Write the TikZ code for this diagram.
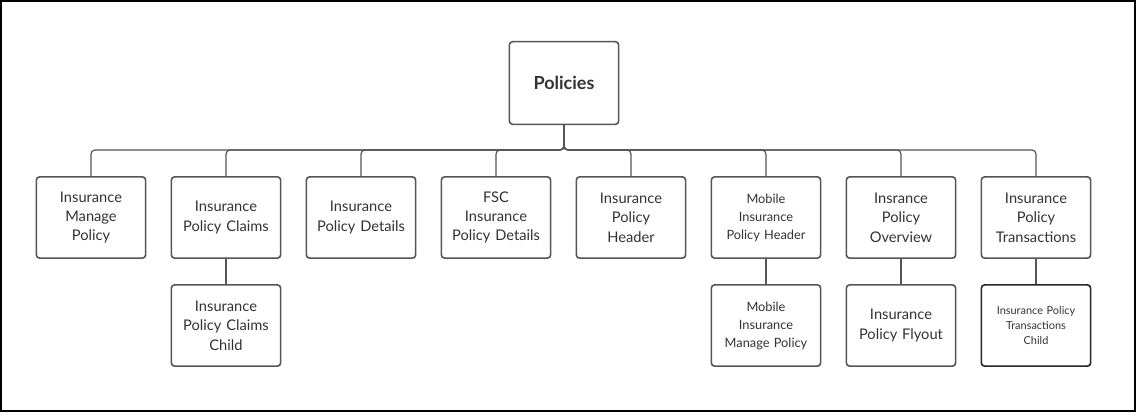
\documentclass[tikz,border=0pt]{standalone}
\usepackage{fontspec}
\setmainfont{Lato}
\usetikzlibrary{positioning}
\definecolor{linegray}{HTML}{555555}
\definecolor{textgray}{HTML}{333333}
\tikzset{
  pagebox/.style={draw=linegray, line width=1.2pt, rounded corners=2.5pt, fill=white,
    minimum width=81pt, minimum height=61pt, inner sep=2pt, align=center,
    text width=78pt, font=\fontsize{11}{14.5}\selectfont, text=textgray},
  link/.style={draw=linegray, line width=0.9pt, rounded corners=3pt}
}
\begin{document}
\begin{tikzpicture}[x=0.75pt,y=-0.75pt]
\useasboundingbox (0,0) rectangle (1136,412);
\draw[black, line width=1pt] (1,1) rectangle (1135,411);
% root
\node[pagebox, minimum height=62pt, font=\fontsize{13.5}{16}\selectfont\bfseries] (root) at (564,83) {Policies};
\coordinate (bus) at (564,150);
% first row
\node[pagebox] (manage) at (91,217.5) {Insurance\\Manage\\Policy};
\node[pagebox] (claims) at (226,217.5) {Insurance\\Policy Claims};
\node[pagebox] (details) at (361,217.5) {Insurance\\Policy Details};
\node[pagebox] (fsc) at (496,217.5) {FSC\\Insurance\\Policy Details};
\node[pagebox] (header) at (631,217.5) {Insurance\\Policy\\Header};
\node[pagebox, font=\fontsize{9.6}{13.5}\selectfont] (mheader) at (766,217.5) {Mobile\\Insurance\\Policy Header};
\node[pagebox] (overview) at (901,217.5) {Insrance\\Policy\\Overview};
\node[pagebox] (trans) at (1036,217.5) {Insurance\\Policy\\Transactions};
% second row
\node[pagebox] (claimschild) at (226,325.5) {Insurance\\Policy Claims\\Child};
\node[pagebox, font=\fontsize{9.6}{13.5}\selectfont] (mmanage) at (766,325.5) {Mobile\\Insurance\\Manage Policy};
\node[pagebox] (flyout) at (901,325.5) {Insurance\\Policy Flyout};
\node[pagebox, draw=black!85, font=\fontsize{8.2}{11.5}\selectfont] (transchild) at (1036,325.5) {Insurance Policy\\Transactions\\Child};
% connectors
\foreach \child in {manage,claims,details,fsc,header,mheader,overview,trans}
  \draw[link] (root.south) |- (bus -| \child.north) -- (\child.north);
\draw[link] (claims) -- (claimschild);
\draw[link] (mheader) -- (mmanage);
\draw[link] (overview) -- (flyout);
\draw[link] (trans) -- (transchild);
\end{tikzpicture}
\end{document}
